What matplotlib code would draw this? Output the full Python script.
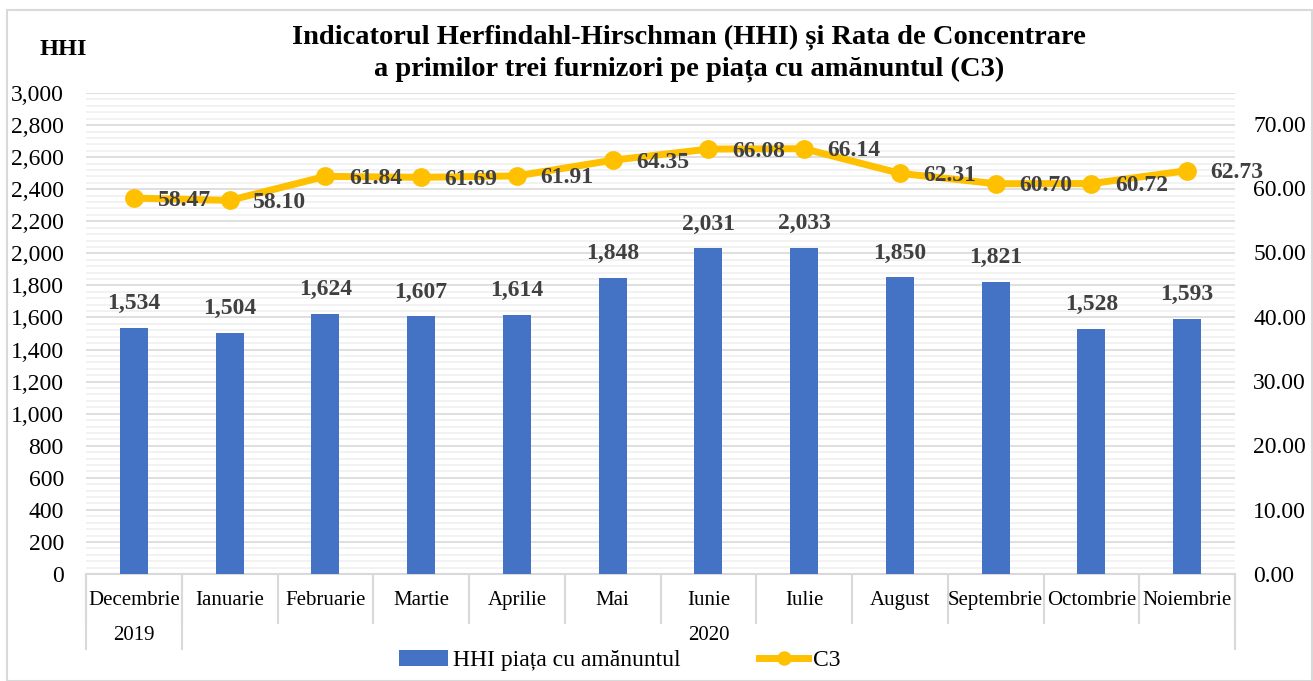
import matplotlib.pyplot as plt
from matplotlib.ticker import MultipleLocator, FuncFormatter
from matplotlib.patches import Rectangle

plt.rcParams['font.family'] = ['Liberation Serif', 'DejaVu Serif']

months = ['Decembrie', 'Ianuarie', 'Februarie', 'Martie', 'Aprilie', 'Mai',
          'Iunie', 'Iulie', 'August', 'Septembrie', 'Octombrie', 'Noiembrie']
years = ['2019', '2020']
year_counts = [1, 11]
hhi = [1534, 1504, 1624, 1607, 1614, 1848, 2031, 2033, 1850, 1821, 1528, 1593]
c3 = [58.47, 58.10, 61.84, 61.69, 61.91, 64.35, 66.08, 66.14, 62.31, 60.70, 60.72, 62.73]

blue = '#4472C4'
gold = '#FFC000'
grid_major = '#D9D9D9'
grid_minor = '#F0F0F0'
lab_col = '#404040'

fig = plt.figure(figsize=(13.13, 6.81), dpi=100)
ax = fig.add_axes([0.0655, 0.1571, 0.8751, 0.7063])
x = list(range(len(months)))

ax.bar(x, hhi, width=0.29, color=blue, zorder=3, label='HHI piața cu amănuntul')
ax.set_xlim(-0.5, len(months) - 0.5)
ax.set_ylim(0, 3000)
ax.yaxis.set_major_locator(MultipleLocator(200))
ax.yaxis.set_minor_locator(MultipleLocator(40))
ax.yaxis.set_major_formatter(FuncFormatter(lambda v, p: f'{int(v):,}'))
ax.grid(axis='y', which='major', color=grid_major, lw=1.2, zorder=0)
ax.grid(axis='y', which='minor', color=grid_minor, lw=1.2, zorder=0)
ax.tick_params(axis='y', which='both', length=0, labelsize=17, pad=16)
for s in ['top', 'left', 'right']:
    ax.spines[s].set_visible(False)
ax.spines['bottom'].set_color(grid_major)
ax.spines['bottom'].set_linewidth(1.5)

# category axis: boundaries as major ticks, names as minor ticks
ax.set_xticks([i - 0.5 for i in range(len(months) + 1)])
ax.set_xticklabels([])
ax.set_xticks(x, minor=True)
ax.set_xticklabels(months, minor=True, fontsize=15)
ax.tick_params(axis='x', which='major', length=36, color=grid_major, width=1.5)
ax.tick_params(axis='x', which='minor', length=0, pad=12)

# second level (years)
trans = ax.get_xaxis_transform()
start = -0.5
for yr, n in zip(years, year_counts):
    ax.text(start + n / 2, -0.127, yr, transform=trans, ha='center', va='center', fontsize=15)
    ax.plot([start, start], [0, -0.155], transform=trans, color=grid_major, lw=1.5, clip_on=False)
    start += n
ax.plot([start, start], [0, -0.155], transform=trans, color=grid_major, lw=1.5, clip_on=False)

for xi, v in zip(x, hhi):
    ax.annotate(f'{v:,}', (xi, v), xytext=(0, 10), textcoords='offset points',
                ha='center', va='bottom', fontsize=17, fontweight='bold', color=lab_col)

ax2 = ax.twinx()
ax2.plot(x, c3, color=gold, lw=5, marker='o', ms=12.5, zorder=4, label='C3')
ax2.set_ylim(0, 74.8)
ax2.set_yticks(range(0, 80, 10))
ax2.yaxis.set_major_formatter(FuncFormatter(lambda v, p: f'{v:.2f}'))
ax2.tick_params(axis='y', length=0, labelsize=17, pad=13)
for s in ['top', 'left', 'right', 'bottom']:
    ax2.spines[s].set_visible(False)

for xi, v in zip(x, c3):
    ax2.annotate(f'{v:.2f}', (xi, v), xytext=(17, -1.5), textcoords='offset points',
                 ha='left', va='center', fontsize=17, fontweight='bold', color=lab_col,
                 zorder=6)

fig.text(0.03, 0.928, 'HHI', ha='left', va='center', fontsize=17.5, fontweight='bold')
fig.text(0.525, 0.945, 'Indicatorul Herfindahl-Hirschman (HHI) și Rata de Concentrare',
         ha='center', va='center', fontsize=20.5, fontweight='bold')
fig.text(0.525, 0.898, 'a primilor trei furnizori pe piața cu amănuntul (C3)',
         ha='center', va='center', fontsize=20.5, fontweight='bold')

h1, l1 = ax.get_legend_handles_labels()
h2, l2 = ax2.get_legend_handles_labels()
fig.legend(h1 + h2, l1 + l2, loc='center', bbox_to_anchor=(0.472, 0.03), ncol=2,
           frameon=False, fontsize=17, columnspacing=3.3, handlelength=2.1,
           handletextpad=0.2, markerscale=0.75)

fig.patches.append(Rectangle((0.005, 0.0), 0.994, 0.985, transform=fig.transFigure,
                             fill=False, edgecolor='#D9D9D9', lw=1.5))

fig.savefig('out.png', dpi=100)
